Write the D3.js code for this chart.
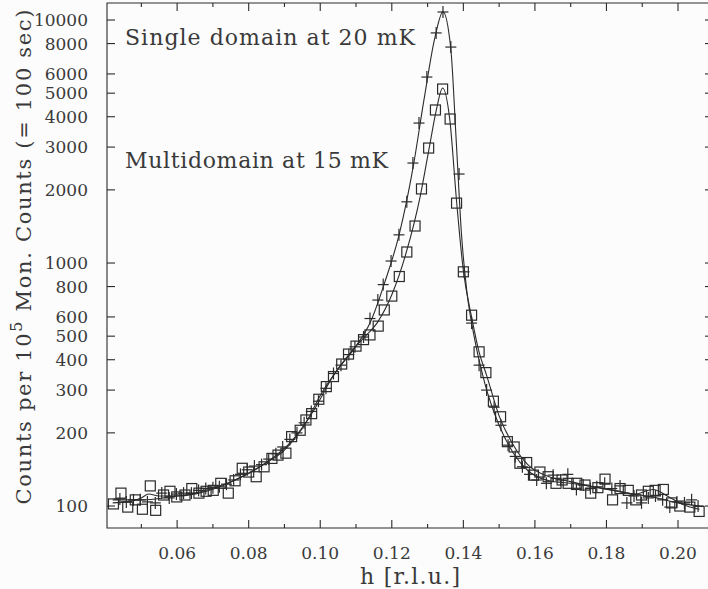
<!DOCTYPE html>
<html><head><meta charset="utf-8">
<script src="https://cdn.jsdelivr.net/npm/d3@7"></script>
<style>
html,body{margin:0;padding:0;background:#fcfcfc;}
svg{display:block;}
</style></head>
<body>
<svg id="c" width="708" height="589"></svg>
<script>
// ---- data ----
const multiH = [0.0422,0.0443,0.0462,0.0483,0.0503,0.0525,0.0540,0.0562,0.0580,0.0599,0.0622,0.0641,0.0661,0.0681,0.0701,0.0722,0.0743,0.0762,0.0782,0.0800,0.0821,0.0843,0.0865,0.0882,0.0904,0.0920,0.0944,0.0960,0.0976,0.0996,0.1017,0.1037,0.1060,0.1079,0.1100,0.1121,0.1139,0.1162,0.1179,0.1200,0.1221,0.1242,0.1265,0.1283,0.1303,0.1322,0.1342,0.1363,0.1381,0.1400,0.1423,0.1444,0.1463,0.1484,0.1504,0.1523,0.1542,0.1558,0.1577,0.1596,0.1614,0.1637,0.1659,0.1676,0.1693,0.1717,0.1740,0.1756,0.1776,0.1796,0.1817,0.1838,0.1861,0.1882,0.1898,0.1917,0.1936,0.1959,0.1982,0.2005,0.2033,0.2059];
const multiV = [102,113,99,106,97,121,96,111,115,109,111,118,113,115,116,124,113,127,143,138,132,145,157,162,165,193,205,226,240,275,310,341,384,422,455,484,506,550,641,731,880,1110,1420,2018,2973,4264,5200,3914,1764,920,610,431,354,270,233,184,175,150,151,134,138,132,124,128,124,124,122,113,119,129,106,118,116,106,111,115,116,117,103,100,99,95];

const singleH = [0.0440,0.0458,0.0478,0.0497,0.0517,0.0539,0.0557,0.0578,0.0598,0.0618,0.0640,0.0660,0.0680,0.0700,0.0718,0.0738,0.0758,0.0777,0.0796,0.0816,0.0836,0.0856,0.0876,0.0895,0.0915,0.0935,0.0955,0.0975,0.0995,0.1016,0.1037,0.1058,0.1080,0.1097,0.1121,0.1139,0.1161,0.1176,0.1198,0.1220,0.1242,0.1259,0.1276,0.1298,0.1324,0.1343,0.1365,0.1388,0.1402,0.1423,0.1444,0.1465,0.1486,0.1505,0.1525,0.1545,0.1565,0.1585,0.1605,0.1632,0.1651,0.1672,0.1692,0.1716,0.1735,0.1755,0.1773,0.1795,0.1815,0.1838,0.1857,0.1877,0.1898,0.1917,0.1937,0.1957,0.1977,0.1997,0.2018,0.2038,0.2056];
const singleV = [107,104,106,106,104,103,113,108,112,113,113,116,118,119,120,123,128,135,141,146,148,156,164,175,188,200,220,245,270,305,351,380,420,452,496,591,704,815,1019,1306,1786,2579,3767,5825,8850,10790,7740,2324,920,566,380,300,255,215,178,160,145,135,128,124,134,128,135,117,122,118,120,124,118,121,103,110,103,108,110,106,99,104,103,106,100];

const fitSingleH = [0.0420,0.0500,0.0580,0.0660,0.0740,0.0800,0.0860,0.0920,0.0980,0.1040,0.1100,0.1140,0.1180,0.1220,0.1260,0.1290,0.1320,0.1343,0.1365,0.1380,0.1395,0.1410,0.1430,0.1460,0.1500,0.1540,0.1580,0.1640,0.1700,0.1780,0.1860,0.1940,0.2000,0.2060];
const fitSingleV = [106,106,109,114,124,136,155,185,245,350,455,570,830,1300,2500,4700,8400,10800,7600,3200,1300,760,500,320,215,165,140,127,124,119,113,108,103,100];

const fitMultiH = [0.0420,0.0460,0.0500,0.0520,0.0550,0.0600,0.0660,0.0720,0.0780,0.0840,0.0900,0.0960,0.1000,0.1040,0.1080,0.1120,0.1160,0.1200,0.1240,0.1280,0.1305,0.1325,0.1342,0.1362,0.1381,0.1400,0.1423,0.1444,0.1465,0.1500,0.1540,0.1580,0.1640,0.1700,0.1760,0.1820,0.1880,0.1930,0.1970,0.2010,0.2060];
const fitMultiV = [103,104,108,112,110,110,113,120,132,148,170,220,285,350,420,490,570,740,1100,1900,3000,4300,5250,3900,1800,930,600,430,345,235,178,148,132,126,120,116,112,117,110,102,97];

const yTicks = [100,200,300,400,500,600,800,1000,2000,3000,4000,5000,6000,8000,10000];
const xTicks = [0.06,0.08,0.10,0.12,0.14,0.16,0.18,0.20];
const xMinor = [0.05,0.07,0.09,0.11,0.13,0.15,0.17,0.19];

// ---- layout ----
const L = 107, R = 707, T = 3, B = 528;
const ink = "#2b2b2b";
const txt = "#3a3a3a";
const svg = d3.select("#c");
const x = d3.scaleLinear().domain([0.0404, 0.2081]).range([L, R]);
const y = d3.scaleLog().domain([81.2, 11750]).range([B, T]);

const g = svg.append("g");

// frame (left, bottom, top; right edge falls at the image border)
g.append("path").attr("d", `M${R + 2},${T}H${L}V${B}H${R + 2}`)
  .attr("fill", "none").attr("stroke", ink).attr("stroke-width", 1.1);

// y ticks left / right
g.selectAll(".yt").data(yTicks).enter().append("line")
  .attr("x1", L).attr("x2", L + 8).attr("y1", d => y(d)).attr("y2", d => y(d))
  .attr("stroke", ink).attr("stroke-width", 1.1);
g.selectAll(".ytr").data(yTicks).enter().append("line")
  .attr("x1", R + 2).attr("x2", R - 2).attr("y1", d => y(d)).attr("y2", d => y(d))
  .attr("stroke", ink).attr("stroke-width", 1.1);
g.selectAll(".yl").data(yTicks).enter().append("text")
  .attr("x", 88).attr("y", d => y(d) + 6)
  .attr("text-anchor", "end")
  .attr("font-family", "DejaVu Serif").attr("font-size", 17).attr("fill", txt)
  .text(d => d);

// x ticks bottom/top
[[xTicks, 8], [xMinor, 4]].forEach(([arr, len]) => {
  g.selectAll(null).data(arr).enter().append("line")
    .attr("x1", d => x(d)).attr("x2", d => x(d)).attr("y1", B).attr("y2", B - len)
    .attr("stroke", ink).attr("stroke-width", 1.1);
  g.selectAll(null).data(arr).enter().append("line")
    .attr("x1", d => x(d)).attr("x2", d => x(d)).attr("y1", T).attr("y2", T + len)
    .attr("stroke", ink).attr("stroke-width", 1.1);
});
g.selectAll(".xl").data(xTicks).enter().append("text")
  .attr("x", d => x(d)).attr("y", 559)
  .attr("text-anchor", "middle")
  .attr("font-family", "DejaVu Serif").attr("font-size", 17).attr("fill", txt)
  .text(d => d.toFixed(2));

// axis titles
svg.append("text").attr("x", 410).attr("y", 584).attr("text-anchor", "middle")
  .attr("font-family", "DejaVu Serif").attr("font-size", 22).attr("fill", txt)
  .attr("textLength", 100).attr("lengthAdjust", "spacing")
  .text("h [r.l.u.]");

const yt = svg.append("text").attr("transform", "translate(31,257) rotate(-90)")
  .attr("text-anchor", "middle")
  .attr("font-family", "DejaVu Serif").attr("font-size", 21).attr("fill", txt)
  .attr("textLength", 495).attr("lengthAdjust", "spacing");
yt.append("tspan").text("Counts per 10");
yt.append("tspan").attr("font-size", 16).attr("dy", -9).text("5");
yt.append("tspan").attr("dy", 9).text(" Mon. Counts (= 100 sec)");

// annotations
svg.append("text").attr("x", 125).attr("y", 45)
  .attr("font-family", "DejaVu Serif").attr("font-size", 22).attr("fill", txt)
  .attr("textLength", 290).attr("lengthAdjust", "spacing")
  .text("Single domain at 20 mK");
svg.append("text").attr("x", 125).attr("y", 168)
  .attr("font-family", "DejaVu Serif").attr("font-size", 22).attr("fill", txt)
  .attr("textLength", 263).attr("lengthAdjust", "spacing")
  .text("Multidomain at 15 mK");

// fit lines
const line = d3.line().x(d => x(d[0])).y(d => y(d[1])).curve(d3.curveMonotoneX);
svg.append("path").datum(d3.zip(fitSingleH, fitSingleV)).attr("d", line)
  .attr("fill", "none").attr("stroke", ink).attr("stroke-width", 1.1);
svg.append("path").datum(d3.zip(fitMultiH, fitMultiV)).attr("d", line)
  .attr("fill", "none").attr("stroke", ink).attr("stroke-width", 1.1);

// markers: squares (multidomain)
svg.selectAll(".sq").data(d3.zip(multiH, multiV)).enter().append("rect")
  .attr("x", d => x(d[0]) - 5).attr("y", d => y(d[1]) - 5)
  .attr("width", 10).attr("height", 10)
  .attr("fill", "none").attr("stroke", ink).attr("stroke-width", 1.2);

// markers: crosses (single domain)
const cr = svg.selectAll(".cr").data(d3.zip(singleH, singleV)).enter().append("g")
  .attr("transform", d => `translate(${x(d[0])},${y(d[1])})`);
cr.append("line").attr("x1", -5.5).attr("x2", 5.5).attr("y1", 0).attr("y2", 0)
  .attr("stroke", ink).attr("stroke-width", 1.2);
cr.append("line").attr("x1", 0).attr("x2", 0).attr("y1", -6).attr("y2", 6)
  .attr("stroke", ink).attr("stroke-width", 1.2);
</script>
</body></html>
